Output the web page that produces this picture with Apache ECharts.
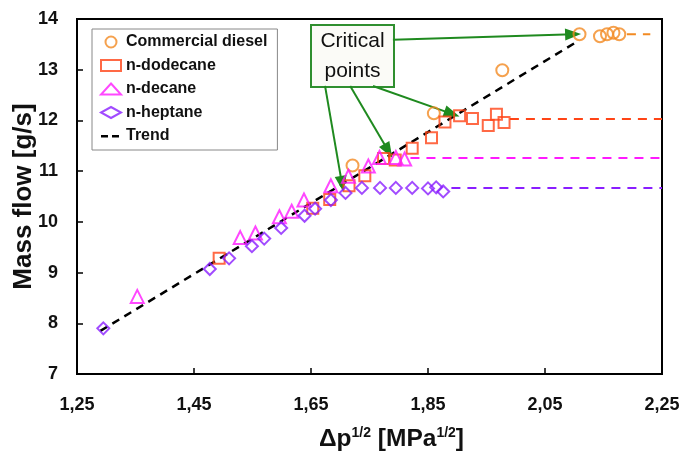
<!DOCTYPE html>
<html>
<head>
<meta charset="utf-8">
<script src="https://cdn.jsdelivr.net/npm/echarts@6/dist/echarts.min.js"></script>
<style>
  html, body { margin: 0; padding: 0; background: #fff; }
  #chart { width: 684px; height: 454px; }
</style>
</head>
<body>
<div id="chart"></div>
<script>
// data: [dp^1/2, mass flow]
var diesel = [[1.721,11.11],[1.860,12.14],[1.977,12.99],[2.109,13.70],[2.144,13.66],[2.156,13.70],[2.167,13.73],[2.177,13.70]];
var dodecane = [[1.493,9.28],[1.653,10.27],[1.682,10.44],[1.715,10.71],[1.742,10.91],[1.774,11.25],[1.794,11.22],[1.823,11.45],[1.856,11.66],[1.879,11.97],[1.904,12.09],[1.926,12.04],[1.953,11.90],[1.967,12.12],[1.980,11.96]];
var decane = [[1.353,8.53],[1.529,9.69],[1.555,9.78],[1.596,10.10],[1.617,10.21],[1.638,10.43],[1.684,10.71],[1.714,10.90],[1.748,11.10],[1.767,11.27],[1.795,11.27],[1.810,11.24]];
var heptane = [[1.295,7.90],[1.477,9.07],[1.510,9.28],[1.549,9.52],[1.570,9.67],[1.599,9.88],[1.639,10.12],[1.657,10.26],[1.684,10.43],[1.709,10.57],[1.737,10.67],[1.768,10.67],[1.795,10.67],[1.823,10.67],[1.850,10.66],[1.864,10.68],[1.876,10.60]];
var trend = [[1.29,7.85],[2.10,13.52]];

// plateaus after the critical point
var dieselPlateau = [[2.19,13.70],[2.23,13.70]];
var dodecanePlateau = [[1.99,12.03],[2.25,12.03]];
var decanePlateau = [[1.82,11.26],[2.25,11.26]];
var heptanePlateau = [[1.89,10.67],[2.25,10.67]];

// arrows from the "Critical points" box
var arrows = [
	[[1.790,13.59],[2.098,13.70]],
	[[1.756,12.68],[1.891,12.13]],
	[[1.717,12.68],[1.782,11.40]],
	[[1.674,12.68],[1.703,10.75]]
];

var FONT = '"Liberation Sans", Arial, sans-serif';
var colors = {
	diesel: '#f28a22',
	dodecane: '#ff4416',
	decane: '#ff1aff',
	heptane: '#8a1eff'
};
// two dashes, with tiny corner dots so the icon keeps its 20x11 box
var dashIcon = 'path://M0,4.5L7,4.5L7,7L0,7Z M11,4.5L18,4.5L18,7L11,7Z M0,0L0.01,0L0.01,0.01Z M19.99,10.99L20,10.99L20,11L19.99,11Z';

function scatter(name, data, symbol, size, color) {
	return {
		name: name,
		type: 'scatter',
		data: data,
		symbol: symbol,
		symbolSize: size,
		z: 5,
		itemStyle: { color: 'transparent', borderColor: color, borderWidth: 2 }
	};
}

function plateau(data, color) {
	return {
		type: 'line',
		data: data,
		symbol: 'none',
		silent: true,
		z: 2,
		lineStyle: { color: color, width: 2, type: [9, 7] }
	};
}

var myChart = echarts.init(document.getElementById('chart'), null, { renderer: 'canvas' });

var options = {
	animation: false,
	textStyle: { fontFamily: FONT },
	grid: {
		left: 77, right: 22, top: 19, bottom: 80,
		outerBoundsMode: 'none',
		show: true, borderColor: '#000', borderWidth: 2
	},
	legend: {
		orient: 'vertical',
		left: 92, top: 29,
		data: [
			'Commercial diesel', 'n-dodecane', 'n-decane', 'n-heptane',
			{ name: 'Trend', icon: dashIcon, itemStyle: { color: '#000', borderWidth: 0 } }
		],
		itemWidth: 20, itemHeight: 11, itemGap: 7.5,
		padding: [5, 10, 6, 8],
		borderColor: '#888', borderWidth: 1,
		backgroundColor: '#fff',
		textStyle: { fontFamily: FONT, fontWeight: 'bold', fontSize: 16, color: '#111' }
	},
	xAxis: {
		type: 'value',
		min: 1.25, max: 2.25, interval: 0.2,
		name: 'Δp{sup|1/2} [MPa{sup|1/2}]',
		nameLocation: 'middle', nameGap: 52,
		nameMoveOverlap: false,
		nameTextStyle: {
			fontFamily: FONT, fontWeight: 'bold', fontSize: 24.5, color: '#111', lineHeight: 26,
			padding: [0, 0, 0, 44],
			rich: { sup: { fontFamily: FONT, fontWeight: 'bold', fontSize: 14, color: '#111', verticalAlign: 'top', lineHeight: 26 } }
		},
		axisLine: { lineStyle: { color: '#000', width: 2 } },
		axisTick: { inside: true, length: 6, lineStyle: { color: '#000', width: 1.5 } },
		axisLabel: {
			margin: 22, fontFamily: FONT, fontWeight: 'bold', fontSize: 18, color: '#111',
			formatter: function(v) { return v.toFixed(2).replace('.', ','); }
		},
		splitLine: { show: false }
	},
	yAxis: {
		type: 'value',
		min: 7, max: 14, interval: 1,
		name: 'Mass flow [g/s]',
		nameLocation: 'middle', nameGap: 40,
		nameMoveOverlap: false,
		nameTextStyle: { fontFamily: FONT, fontWeight: 'bold', fontSize: 26, color: '#111' },
		axisLine: { lineStyle: { color: '#000', width: 2 } },
		axisTick: { inside: true, length: 6, lineStyle: { color: '#000', width: 1.5 } },
		axisLabel: { margin: 19, fontFamily: FONT, fontWeight: 'bold', fontSize: 18, color: '#111' },
		splitLine: { show: false }
	},
	graphic: [{
		type: 'group',
		left: 310, top: 24,
		z: 100,
		children: [{
			type: 'rect',
			shape: { x: 0, y: 0, width: 83, height: 62 },
			style: { fill: '#fbfbf7', stroke: '#2f8f2f', lineWidth: 2 }
		}, {
			type: 'text',
			x: 41.5, y: 31,
			style: {
				text: 'Critical\npoints',
				font: '21px ' + FONT,
				fill: '#111',
				align: 'center', verticalAlign: 'middle',
				lineHeight: 30
			}
		}]
	}],
	series: [
		{
			name: 'Trend',
			type: 'line',
			data: trend,
			symbol: 'none',
			z: 3,
			lineStyle: { color: '#000', width: 2.5, type: [8, 6] },
			itemStyle: { color: '#000' }
		},
		plateau(dieselPlateau, colors.diesel),
		plateau(dodecanePlateau, colors.dodecane),
		plateau(decanePlateau, colors.decane),
		plateau(heptanePlateau, colors.heptane),
		scatter('Commercial diesel', diesel, 'circle', 12, colors.diesel),
		scatter('n-dodecane', dodecane, 'rect', 11, colors.dodecane),
		scatter('n-decane', decane, 'triangle', 13, colors.decane),
		scatter('n-heptane', heptane, 'diamond', 12, colors.heptane),
		{
			type: 'line',
			data: [],
			silent: true,
			z: 6,
			markLine: {
				silent: true,
				symbol: ['none', 'triangle'],
				symbolSize: [12, 16],
				label: { show: false },
				emphasis: { disabled: true },
				lineStyle: { color: '#1f8a1f', width: 2, type: 'solid' },
				itemStyle: { color: '#1f8a1f' },
				data: arrows.map(function(a) {
					return [{ coord: a[0] }, { coord: a[1] }];
				})
			}
		}
	]
};

myChart.setOption(options);
</script>
</body>
</html>
